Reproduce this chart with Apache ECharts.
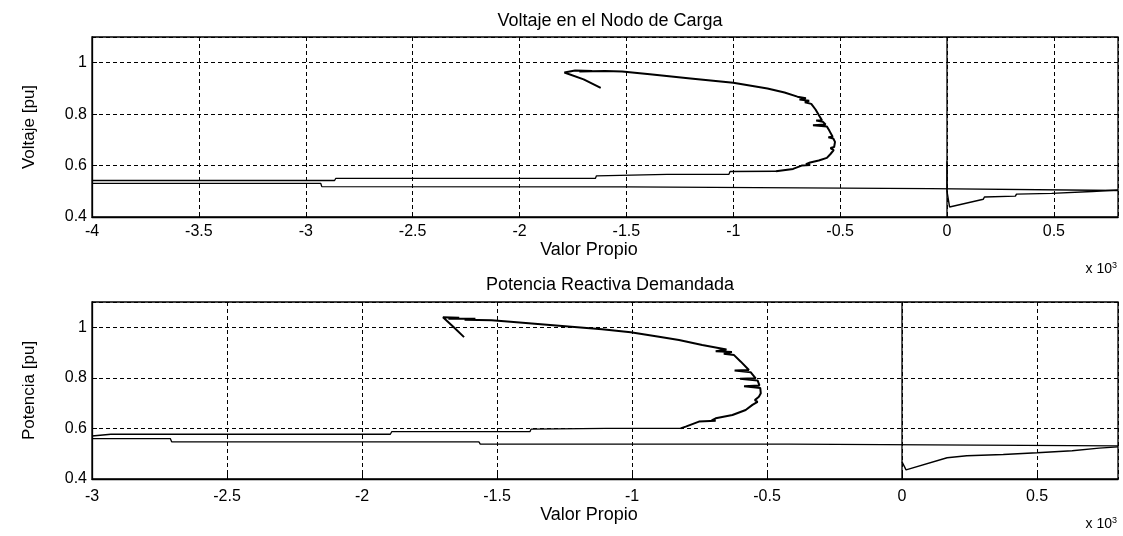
<!DOCTYPE html>
<html>
<head>
<meta charset="utf-8">
<script src="https://cdn.jsdelivr.net/npm/echarts@6/dist/echarts.min.js"></script>
<style>
html,body{margin:0;padding:0;background:#fff;}
#chart{width:1123px;height:536px;}
</style>
</head>
<body>
<div id="chart"></div>
<script>
// ---------- DATA (x in units of 10^3) ----------
const titles = ['Voltaje en el Nodo de Carga', 'Potencia Reactiva Demandada'];
const yNames = ['Voltaje [pu]', 'Potencia [pu]'];
const xName = 'Valor Propio';
const xMin = [-4, -3];
const xMax = 0.8;
const yMin = 0.4, yMax = 1.1;

// Top chart: voltage
const voltArc = [
  [-1.62,0.902],[-1.70,0.935],[-1.79,0.962],[-1.74,0.970],[-1.66,0.968],[-1.72,0.966],[-1.60,0.968],
  [-1.52,0.966],[-1.39,0.955],[-1.20,0.939],[-1.00,0.922],[-0.84,0.900],[-0.76,0.884],
  [-0.70,0.868],[-0.66,0.862],[-0.69,0.857],[-0.645,0.852],[-0.665,0.846],[-0.635,0.840],
  [-0.615,0.818],[-0.595,0.790],[-0.585,0.776],[-0.612,0.775],[-0.580,0.770],[-0.568,0.760],
  [-0.627,0.757],[-0.562,0.752],[-0.550,0.735],[-0.535,0.712],[-0.555,0.710],[-0.532,0.705],
  [-0.524,0.692],[-0.528,0.672],[-0.545,0.668],[-0.530,0.660],[-0.545,0.645],[-0.562,0.630],
  [-0.600,0.620],[-0.640,0.612],[-0.660,0.605],[-0.640,0.602],[-0.680,0.600],[-0.720,0.587],
  [-0.800,0.578]
];
const voltUpperTail = [
  [-0.800,0.578],[-1.015,0.577],[-1.020,0.566],[-1.310,0.566],[-1.315,0.560],[-1.640,0.560],
  [-1.645,0.550],[-2.860,0.550],[-2.865,0.542],[-4.0,0.542]
];
const voltLower = [
  [-4.0,0.531],[-2.930,0.531],[-2.925,0.518],[-1.500,0.517],[-1.495,0.510],
  [-0.080,0.510],[-0.075,0.504],[0.8,0.503]
];
const voltAfterZero = [
  [0.0,0.617],[0.0,0.500],[0.012,0.439],[0.170,0.469],[0.175,0.478],[0.320,0.481],
  [0.325,0.489],[0.490,0.492],[0.495,0.496],[0.680,0.499],[0.685,0.505],[0.8,0.505]
];
const voltZeroLine = [[0,0.4],[0,1.1]];

// Bottom chart: reactive power
const powArc = [
  [-1.622,0.961],[-1.66,1.000],[-1.70,1.040],[-1.64,1.038],[-1.68,1.034],[-1.58,1.034],
  [-1.62,1.030],[-1.52,1.028],[-1.45,1.022],[-1.27,1.006],[-1.111,0.992],[-1.005,0.980],
  [-0.900,0.963],[-0.826,0.950],[-0.740,0.930],[-0.680,0.918],[-0.650,0.912],[-0.690,0.905],
  [-0.630,0.902],[-0.660,0.895],[-0.622,0.890],[-0.597,0.864],[-0.567,0.831],[-0.620,0.829],
  [-0.560,0.822],[-0.542,0.798],[-0.600,0.796],[-0.535,0.790],[-0.528,0.770],[-0.585,0.767],
  [-0.525,0.760],[-0.523,0.739],[-0.530,0.725],[-0.545,0.712],[-0.535,0.705],[-0.554,0.693],
  [-0.579,0.673],[-0.628,0.653],[-0.690,0.640],[-0.705,0.632],[-0.690,0.630],[-0.752,0.627],
  [-0.801,0.607],[-0.820,0.600]
];
const powUpperTail = [
  [-0.820,0.600],[-1.096,0.600],[-1.100,0.597],[-1.374,0.597],[-1.378,0.587],
  [-1.890,0.587],[-1.895,0.577],[-2.930,0.577],[-2.935,0.570],[-3.0,0.570]
];
const powLower = [
  [-3.0,0.560],[-2.710,0.560],[-2.705,0.547],[-1.567,0.547],[-1.562,0.538],
  [-0.419,0.538],[-0.414,0.531],[0.8,0.531]
];
const powAfterZero = [
  [0.0,0.468],[0.015,0.436],[0.167,0.484],[0.172,0.488],[0.240,0.492],[0.245,0.497],
  [0.375,0.497],[0.380,0.503],[0.500,0.504],[0.505,0.509],[0.630,0.512],[0.635,0.519],
  [0.730,0.522],[0.8,0.527]
];
const powZeroLine = [[0,0.4],[0,1.1]];

// ---------- CHART ----------
const FONT = 'Liberation Sans, Arial, Helvetica, sans-serif';
const chart = echarts.init(document.getElementById('chart'), null, {renderer:'canvas'});

const grids = [
  {left:92, top:37, width:1026, height:180},
  {left:92, top:302, width:1026, height:177}
];
const xNameGap = [15, 20];
const xLabelMargin = [7, 10];

function xAxis(i){
  return {
    type:'value', gridIndex:i, min:xMin[i], max:xMax, interval:0.5,
    name:xName, nameLocation:'middle', nameGap:xNameGap[i],
    nameTextStyle:{color:'#000', fontSize:18, fontFamily:FONT, padding:[0,32,0,0]},
    axisLine:{show:true, onZero:false, lineStyle:{color:'#000', width:1.3}},
    axisTick:{show:true, inside:true, length:5, lineStyle:{color:'#000'}},
    axisLabel:{color:'#000', fontSize:16, fontFamily:FONT, margin:xLabelMargin[i],
      showMaxLabel:false, formatter:v=>String(+v.toFixed(2))},
    splitLine:{show:true, lineStyle:{color:'#000', width:1, type:[4,3]}}
  };
}
function yAxis(i){
  return {
    type:'value', gridIndex:i, min:yMin, max:yMax, interval:0.2,
    name:yNames[i], nameLocation:'middle', nameGap:54,
    nameTextStyle:{color:'#000', fontSize:17, fontFamily:FONT},
    axisLine:{show:true, onZero:false, lineStyle:{color:'#000', width:1.3}},
    axisTick:{show:true, inside:true, length:5, lineStyle:{color:'#000'}},
    axisLabel:{color:'#000', fontSize:16, fontFamily:FONT, margin:5,
      showMaxLabel:false, formatter:v=>String(+v.toFixed(1))},
    splitLine:{show:true, lineStyle:{color:'#000', width:1, type:[4,3]}}
  };
}
function line(data, gi, w){
  return {type:'line', xAxisIndex:gi, yAxisIndex:gi, data:data, showSymbol:false,
    symbol:'none', smooth:false, animation:false, silent:true, clip:true,
    lineStyle:{color:'#000', width:w}};
}

chart.setOption({
  backgroundColor:'#fff',
  animation:false,
  title:[
    {text:titles[0], left:605, top:7, textAlign:'center',
     textStyle:{color:'#000', fontSize:18, fontWeight:'normal', fontFamily:FONT}},
    {text:titles[1], left:605, top:271, textAlign:'center',
     textStyle:{color:'#000', fontSize:18, fontWeight:'normal', fontFamily:FONT}}
  ],
  grid: grids.map(g=>Object.assign({show:true, borderColor:'#000', borderWidth:1.3, backgroundColor:'transparent'}, g)),
  xAxis:[xAxis(0), xAxis(1)],
  yAxis:[yAxis(0), yAxis(1)],
  series:[
    line(voltZeroLine,0,1.3),
    line(voltLower,0,1.3),
    line(voltUpperTail,0,1.3),
    line(voltAfterZero,0,1.4),
    line(voltArc,0,2),
    line(powZeroLine,1,1.3),
    line(powLower,1,1.3),
    line(powUpperTail,1,1.3),
    line(powAfterZero,1,1.4),
    line(powArc,1,2)
  ],
  graphic:[
    {type:'text', right:6, top:261, style:{text:'{a|x 10}{b|3}', fill:'#000',
      rich:{a:{fontSize:14, fontFamily:FONT, fill:'#000'}, b:{fontSize:9, fontFamily:FONT, fill:'#000', verticalAlign:'top', padding:[0,0,8,0]}}}},
    {type:'text', right:6, top:516, style:{text:'{a|x 10}{b|3}', fill:'#000',
      rich:{a:{fontSize:14, fontFamily:FONT, fill:'#000'}, b:{fontSize:9, fontFamily:FONT, fill:'#000', verticalAlign:'top', padding:[0,0,8,0]}}}}
  ]
});
</script>
</body>
</html>
